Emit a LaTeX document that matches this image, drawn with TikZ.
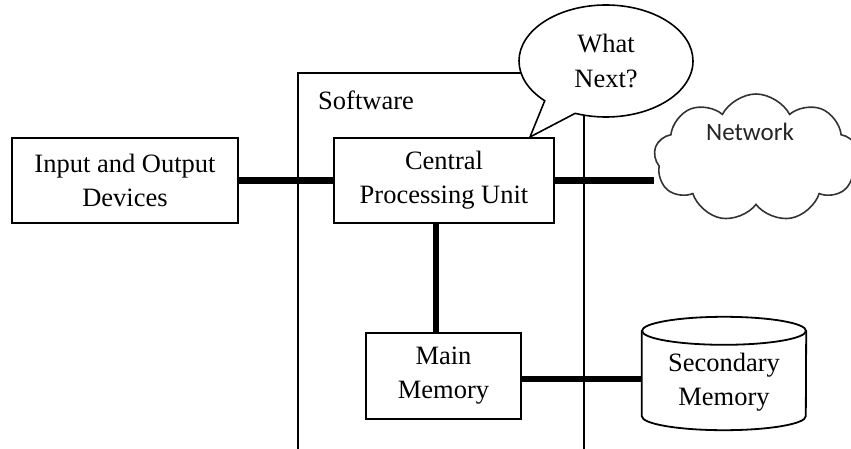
\documentclass[tikz,border=0pt]{standalone}
\usepackage{fontspec}
\setmainfont{Liberation Serif}
\newfontfamily\netfont{Carlito}
\usetikzlibrary{shapes.callouts,shapes.symbols,calc}
\tikzset{
  box/.style={draw, line width=1.8pt, fill=white, align=center, inner sep=0pt,
    font=\fontsize{26.5}{34}\selectfont},
  bus/.style={line width=6.5pt},
  frame/.style={line width=1.4pt},
  txt/.style={align=center, inner sep=0pt, font=\fontsize{26.5}{34}\selectfont},
}
\begin{document}
\begin{tikzpicture}[x=1pt,y=1pt]
\useasboundingbox (0,0) rectangle (851,-449);
% software frame
\coordinate (fbl) at (298,-449);
\coordinate (ftl) at (298,-73);
\coordinate (ftr) at (584,-73);
\coordinate (fbr) at (584,-449);
\draw[frame] (fbl) -- (ftl) -- (ftr) -- (fbr);
\node[txt, anchor=west] (sw) at (318,-100) {Software};
% boxes
\node[box, minimum width=226, minimum height=85] (io) at (125,-180.5) {Input and Output\\Devices};
\node[box, minimum width=220, minimum height=85] (cpu) at (444,-180.5) {Central\\Processing Unit};
\node[box, minimum width=155, minimum height=86] (mm) at (443.5,-376) {Main\\Memory};
% secondary memory cylinder
\node[txt, minimum width=164, minimum height=113] (sec) at (724,-373.5) {};
\node[txt] (sectext) at (724,-382) {Secondary\\Memory};
\draw[line width=1.8pt] ($(sec.north west)+(0,-14)$) -- ($(sec.south west)+(0,14)$)
  arc[start angle=180, end angle=360, x radius=82, y radius=14]
  -- ($(sec.north east)+(0,-14)$);
\draw[line width=1.8pt] ($(sec.north)+(0,-14)$) ellipse [x radius=82, y radius=14];
% cloud
\node[cloud, draw=black!80, line width=1.6pt, fill=white, cloud puffs=9, cloud puff arc=125,
  minimum width=204, minimum height=128, inner sep=0pt] (net) at (756,-158) {};
\node[inner sep=0pt, font=\netfont\fontsize{25}{28}\selectfont, text=black!85] (nettext) at (750,-132) {Network};
% callout
\coordinate (tip) at (530,-137);
\node[ellipse callout, draw, line width=1.6pt, fill=white, callout absolute pointer={(tip)},
  callout pointer arc=24, minimum width=174, minimum height=112, inner sep=0pt,
  align=center, font=\fontsize{26.5}{35}\selectfont] (what) at (606,-61) {What\\Next?};
% buses
\coordinate (cpub) at ($(cpu.south)+(-8,0)$);
\coordinate (mme) at ($(mm.east)+(0,-3)$);
\draw[bus] (io.east) -- (cpu.west);
\draw[bus] (cpu.east) -- (cpu.east -| net.west);
\draw[bus] (cpub) -- (cpub |- mm.north);
\draw[bus] (mme) -- (mme -| sec.west);
\end{tikzpicture}
\end{document}
